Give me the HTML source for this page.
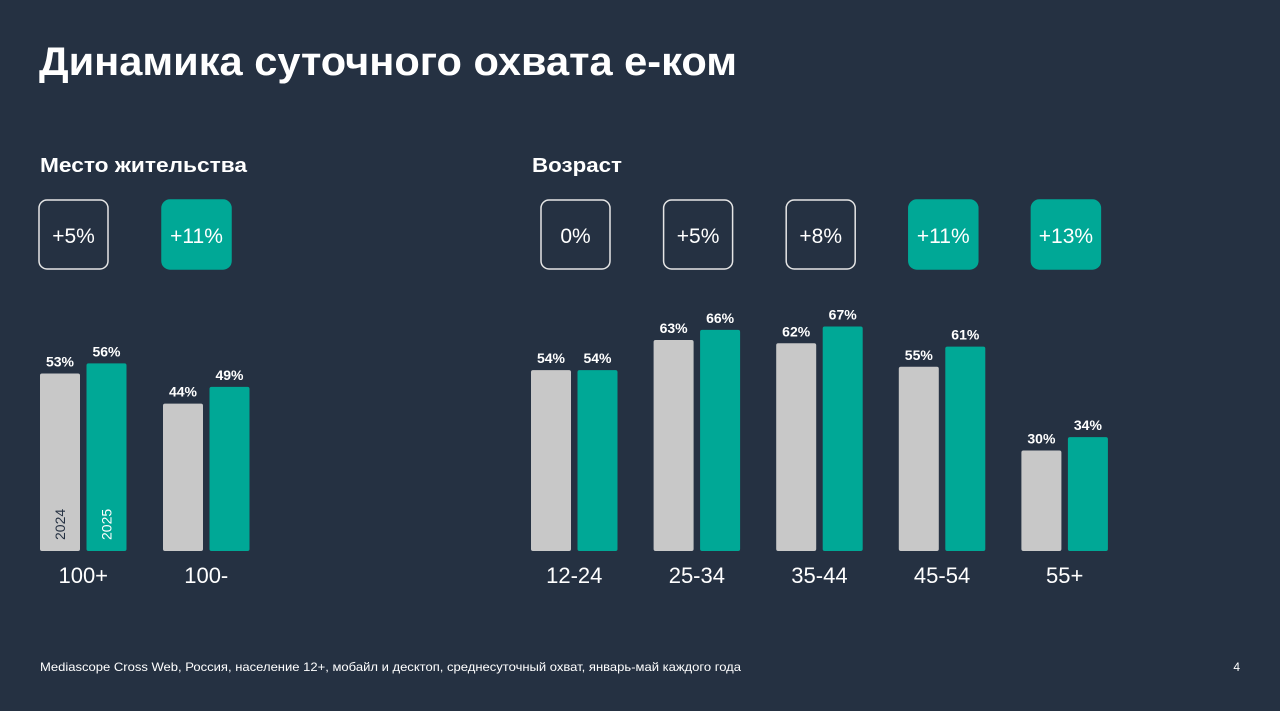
<!DOCTYPE html>
<html><head><meta charset="utf-8"><style>
html,body{margin:0;padding:0;background:#253142;}
svg{display:block;font-family:"Liberation Sans","Noto Sans CJK SC",sans-serif;}
</style></head><body>
<svg id="chart" width="1280" height="711" viewBox="0 0 1280 711" xmlns="http://www.w3.org/2000/svg">
<rect width="1280" height="711" fill="#253142"/>
<text x="39" y="75" fill="#fff" font-size="40" font-weight="bold" textLength="698" lengthAdjust="spacingAndGlyphs">Динамика суточного охвата е-ком</text>
<text x="40" y="172" fill="#fff" font-size="20" font-weight="bold" textLength="207" lengthAdjust="spacingAndGlyphs">Место жительства</text>
<text x="532" y="172" fill="#fff" font-size="20" font-weight="bold" textLength="90" lengthAdjust="spacingAndGlyphs">Возраст</text>
<text x="40" y="671" fill="#fff" font-size="12" textLength="701" lengthAdjust="spacingAndGlyphs">Mediascope Cross Web, Россия, население 12+, мобайл и десктоп, среднесуточный охват, январь-май каждого года</text>
<text x="1240" y="671" fill="#fff" font-size="12" text-anchor="end">4</text>
<g id="marks"></g>
</svg>
<script>
const resCategories = ["100+", "100-"];
const res2024 = [53, 44];
const res2025 = [56, 49];
const resChange = ["+5%", "+11%"];
const resHighlight = [false, true];

const ageCategories = ["12-24", "25-34", "35-44", "45-54", "55+"];
const age2024 = [54, 63, 62, 55, 30];
const age2025 = [54, 66, 67, 61, 34];
const ageChange = ["0%", "+5%", "+8%", "+11%", "+13%"];
const ageHighlight = [false, false, false, true, true];

const NS = "http://www.w3.org/2000/svg";
const g = document.getElementById("marks");
const baseY = 551, pxPer = 3.35, barW = 40, gap = 6.5;
function yScale(v){ return baseY - v * pxPer; }
function mk(tag, attrs){ const e = document.createElementNS(NS, tag); for (const k in attrs) e.setAttribute(k, attrs[k]); g.appendChild(e); return e; }

function drawChart(cats, v1, v2, changes, hl, x0, pitch, boxOff, prefix, yearLabels){
  cats.forEach((c, i) => {
    const gx = x0 + i * pitch;
    const b1 = mk("rect", {x: gx, y: yScale(v1[i]), width: barW, height: v1[i]*pxPer, rx: 2, fill: "#c8c8c8"});
    
    
    const x2 = gx + barW + gap;
    const b2 = mk("rect", {x: x2, y: yScale(v2[i]), width: barW, height: v2[i]*pxPer, rx: 2, fill: "#00a896"});
    
    
    const l1 = mk("text", {x: gx + barW/2, y: yScale(v1[i]) - 7, fill: "#fff", "font-size": 14, "font-weight": "bold", "text-anchor": "middle"});
    l1.textContent = v1[i] + "%";
    
    
    const l2 = mk("text", {x: x2 + barW/2, y: yScale(v2[i]) - 7, fill: "#fff", "font-size": 14, "font-weight": "bold", "text-anchor": "middle"});
    l2.textContent = v2[i] + "%";
    
    
    const cl = mk("text", {x: gx + barW + gap/2, y: 583, fill: "#fff", "font-size": 22, "text-anchor": "middle"});
    cl.textContent = c;
    
    
    const bx = gx + boxOff;
    const box = mk("rect", {x: bx, y: 200, width: 69, height: 69, rx: 8,
      fill: hl[i] ? "#00a896" : "none", stroke: hl[i] ? "#00a896" : "#e6e6e6", "stroke-width": 1.5});
    
    
    const bt = mk("text", {x: bx + 34.5, y: 243, fill: "#fff", "font-size": 21, "text-anchor": "middle"});
    bt.textContent = changes[i];
    
    
    if (yearLabels && i === 0) {
      const y1 = mk("text", {x: 0, y: 0, fill: "#253142", "font-size": 14, "text-anchor": "start", transform: `translate(${gx + barW/2 + 5},540) rotate(-90)`});
      y1.textContent = "2024";
      
      
      const y2 = mk("text", {x: 0, y: 0, fill: "#fff", "font-size": 14, "text-anchor": "start", transform: `translate(${x2 + barW/2 + 5},540) rotate(-90)`});
      y2.textContent = "2025";
      
      
    }
  });
}
drawChart(resCategories, res2024, res2025, resChange, resHighlight, 40, 123, -1, "residence", true);
drawChart(ageCategories, age2024, age2025, ageChange, ageHighlight, 531, 122.6, 10, "age", false);
</script>
</body></html>
